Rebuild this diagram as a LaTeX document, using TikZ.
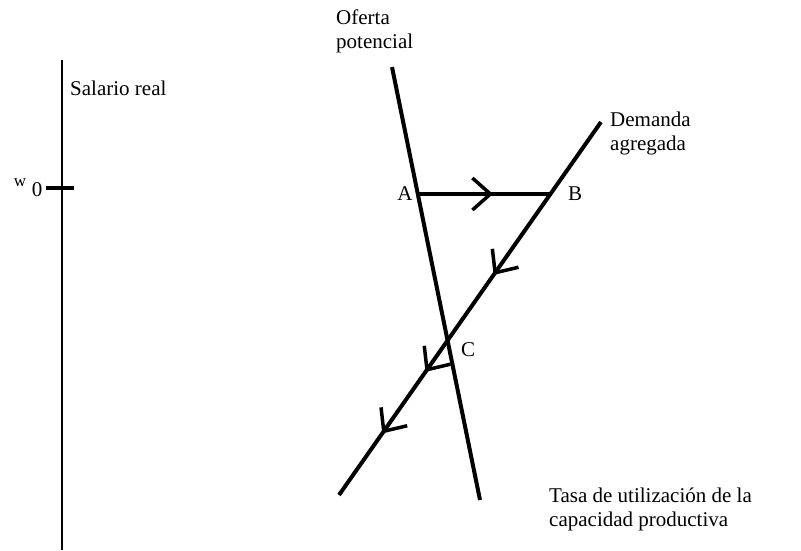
\documentclass[tikz,border=0pt]{standalone}
\usepackage{fontspec}
\setmainfont{Liberation Serif}
\usetikzlibrary{arrows.meta,decorations.markings}

\tikzset{
    curve/.style={line width=4pt},
    axis/.style={line width=2pt},
    lbl/.style={inner sep=0pt, font=\fontsize{21}{24}\selectfont},
    barb/.tip={Straight Barb[length=18pt,width=32pt,line width=3.5pt]},
}

\begin{document}
\begin{tikzpicture}[x=1pt,y=-1pt]
    \useasboundingbox (0,0) rectangle (801,550);
    % vertical axis
    \coordinate (top) at (62,60);
    \coordinate (bot) at (62,550);
    \draw [axis] (top) -- (bot);
    \coordinate (tl) at (46,188);
    \coordinate (tr) at (74,188);
    \draw [line width=4pt] (tl) -- (tr);
    \node [lbl, font=\fontsize{17}{19}\selectfont] (w) at (20,183) {w};
    \node [lbl] (zero) at (37,190) {0};
    \node [lbl, anchor=north west] (salario) at (70,81) {Salario real};
    % curves
    \coordinate (Otop) at (392,67);
    \coordinate (Obot) at (480,500);
    \coordinate (Dtop) at (601,122);
    \coordinate (Dbot) at (339,495);
    \coordinate (A) at (418,194);
    \coordinate (B) at (552,194);
    \draw [curve] (Otop) -- (Obot);
    \draw [curve] (Dtop) -- (Dbot);
    \draw [curve, postaction={decorate},
        decoration={markings, mark=at position 0.56 with {\arrow{barb}}}] (A) -- (B);
    \foreach \p in {0.41,0.67,0.835} {
        \path [decorate, decoration={markings, mark=at position \p with {\arrow{barb}}}] (Dtop) -- (Dbot);
    }
    % labels
    \node [lbl] (la) at (405,194) {A};
    \node [lbl] (lb) at (575,194) {B};
    \node [lbl] (lc) at (468,350) {C};
    \node [lbl, anchor=north west, align=left] (oferta) at (336,10) {Oferta\\potencial};
    \node [lbl, anchor=north west, align=left] (demanda) at (610,112) {Demanda\\agregada};
    \node [lbl, anchor=north west, align=left] (tasa) at (549,488) {Tasa de utilización de la\\capacidad productiva};
\end{tikzpicture}
\end{document}
